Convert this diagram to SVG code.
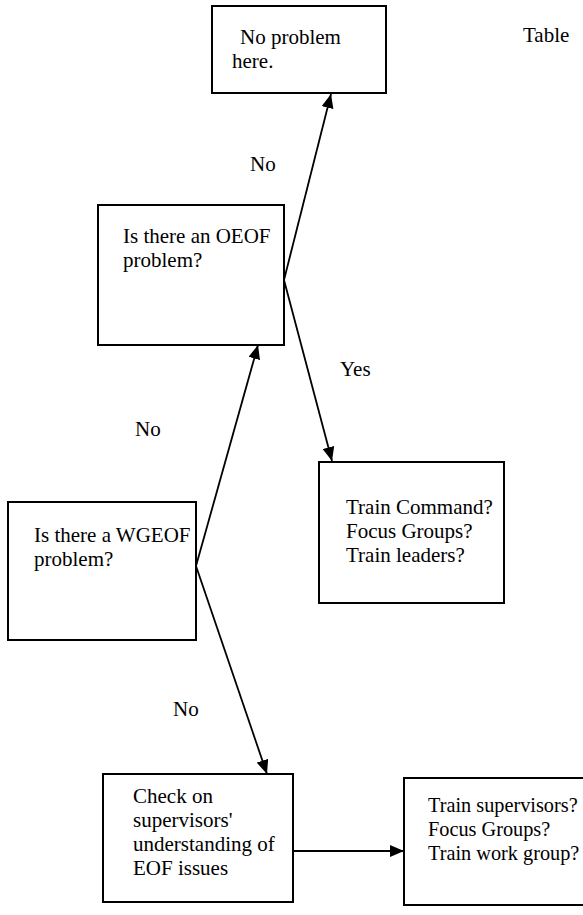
<svg xmlns="http://www.w3.org/2000/svg" width="583" height="915" viewBox="0 0 583 915">
<style>
.box{fill:#fff;stroke:#000;stroke-width:2}
.t{font-family:"Liberation Serif","Times New Roman",serif;font-size:21px;fill:#000}
.s{font-size:20.3px}
.c{stroke:#000;stroke-width:1.8;fill:none}
</style>
<defs>
<marker id="ah" viewBox="0 0 14 12" refX="14" refY="6" markerWidth="14" markerHeight="12" markerUnits="userSpaceOnUse" orient="auto">
<path d="M0,0 L14,6 L0,12 Z" fill="#000"/>
</marker>
</defs>
<rect width="583" height="915" fill="#fff"/>
<g id="connectors">
<line class="c" x1="284" y1="280" x2="331" y2="94" marker-end="url(#ah)"/>
<line class="c" x1="284" y1="280" x2="332" y2="461" marker-end="url(#ah)"/>
<line class="c" x1="196" y1="566" x2="258" y2="345" marker-end="url(#ah)"/>
<line class="c" x1="196" y1="566" x2="267" y2="774" marker-end="url(#ah)"/>
<line class="c" x1="293" y1="851" x2="404" y2="851" marker-end="url(#ah)"/>
</g>
<g id="n1">
<rect class="box" x="212" y="6" width="174" height="87"/>
<text class="t" x="240" y="44">No problem</text>
<text class="t" x="232" y="68">here.</text>
</g>
<g id="table"><text class="t" x="523" y="42">Table</text></g>
<g id="n2">
<rect class="box" x="98" y="205" width="186" height="140"/>
<text class="t" x="123" y="243">Is there an OEOF</text>
<text class="t" x="123" y="267">problem?</text>
</g>
<g id="n3">
<rect class="box" x="8" y="502" width="188" height="138"/>
<text class="t" x="34" y="542">Is there a WGEOF</text>
<text class="t" x="34" y="566">problem?</text>
</g>
<g id="n4">
<rect class="box" x="319" y="462" width="185" height="141"/>
<text class="t" x="346" y="514">Train Command?</text>
<text class="t" x="346" y="538">Focus Groups?</text>
<text class="t" x="346" y="562">Train leaders?</text>
</g>
<g id="n5">
<rect class="box" x="103" y="774" width="190" height="128"/>
<text class="t" x="133" y="803">Check on</text>
<text class="t" x="133" y="827">supervisors'</text>
<text class="t" x="133" y="851">understanding of</text>
<text class="t" x="133" y="875">EOF issues</text>
</g>
<g id="n6">
<rect class="box" x="404" y="778" width="180" height="127"/>
<text class="t s" x="428" y="812">Train supervisors?</text>
<text class="t s" x="428" y="836">Focus Groups?</text>
<text class="t s" x="428" y="860">Train work group?</text>
</g>
<g id="labels">
<text class="t" x="250" y="171">No</text>
<text class="t" x="340" y="376">Yes</text>
<text class="t" x="135" y="436">No</text>
<text class="t" x="173" y="716">No</text>
</g>
</svg>
